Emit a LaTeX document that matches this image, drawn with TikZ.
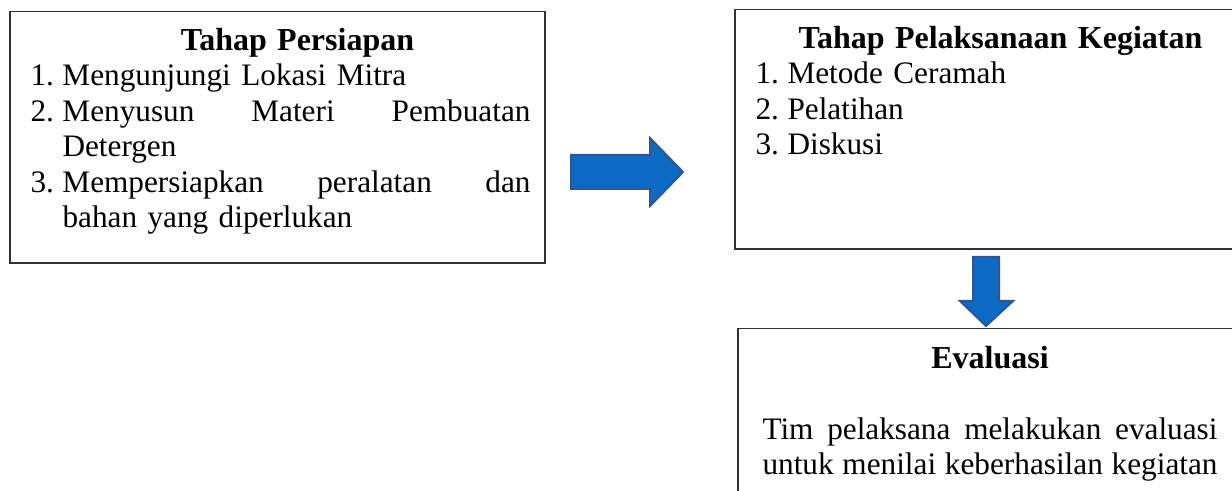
\documentclass[tikz,border=0pt]{standalone}
\usepackage{fontspec}
\setmainfont{Liberation Serif}
\usetikzlibrary{positioning}

\definecolor{arrowblue}{RGB}{12,106,196}
\definecolor{arrowedge}{RGB}{47,85,151}
\definecolor{boxline}{RGB}{50,50,50}

% numbered line with hanging indent
\newcommand{\numitem}[2]{\par\noindent\hangindent=12.8pt\hangafter=1\makebox[12.8pt][l]{#1}#2\par}
% bold heading line
\newcommand{\stagetitle}[1]{{\centering\fontsize{12.8pt}{14.16pt}\selectfont\bfseries\strut #1\par}}

\begin{document}
\begin{tikzpicture}[x=0.4pt,y=-0.4pt,
    panel/.style={rectangle,draw=boxline,line width=0.6pt,
        inner sep=0pt,anchor=north west},
    panel text/.style={inner sep=0pt,
        font=\fontsize{12.5pt}{14.16pt}\selectfont},
    blockarrow/.style={fill=arrowblue,draw=arrowedge,line width=0.8pt,
        line join=miter}
]
 \useasboundingbox (0,0) rectangle (1232,491);
 \fill[white] (0,0) rectangle (1232,491);

 % the three stages
 \node[panel,minimum width=214pt,minimum height=100.4pt] (persiapan) at (9,11) {};
 \node[panel,minimum width=212pt,minimum height=95.6pt] (pelaksanaan) at (734,9) {};
 \node[panel,minimum width=212pt,minimum height=80pt] (evaluasi) at (737,328) {};

 \node[panel text,text width=200pt] (persiapan text)
    [below right=5.68pt and 8.4pt of persiapan.north west] {%
    \stagetitle{\hspace*{13.6pt}Tahap Persiapan}
    \numitem{1.}{Mengunjungi Lokasi Mitra}
    \numitem{2.}{Menyusun\hfill Materi\hfill Pembuatan\newline Detergen}
    \numitem{3.}{Mempersiapkan\hfill peralatan\hfill dan\newline bahan yang diperlukan}};

 \node[panel text,text width=196pt] (pelaksanaan text)
    [below right=5.68pt and 8.4pt of pelaksanaan.north west] {%
    \stagetitle{Tahap Pelaksanaan Kegiatan}
    \numitem{1.}{Metode Ceramah}
    \numitem{2.}{Pelatihan}
    \numitem{3.}{Diskusi}};

 \node[panel text,text width=182pt] (evaluasi text)
    [below right=6.08pt and 10pt of evaluasi.north west] {%
    \stagetitle{Evaluasi}
    \vspace{14.16pt}
    \noindent Tim\hfill pelaksana\hfill melakukan\hfill evaluasi\newline
    untuk\hfill menilai\hfill keberhasilan\hfill kegiatan\par};

 % block arrows
 \coordinate (right tail) at (571,172);
 \coordinate (down tail) at (986,257);
 \draw[blockarrow] (right tail) ++(0,-17) -- ++(79,0) -- ++(0,-17) -- ++(33,34)
    -- ++(-33,34) -- ++(0,-17) -- ++(-79,0) -- cycle;
 \draw[blockarrow] (down tail) ++(-13,0) -- ++(26,0) -- ++(0,44) -- ++(14,0)
    -- ++(-27,25) -- ++(-26,-25) -- ++(13,0) -- cycle;
\end{tikzpicture}
\end{document}
